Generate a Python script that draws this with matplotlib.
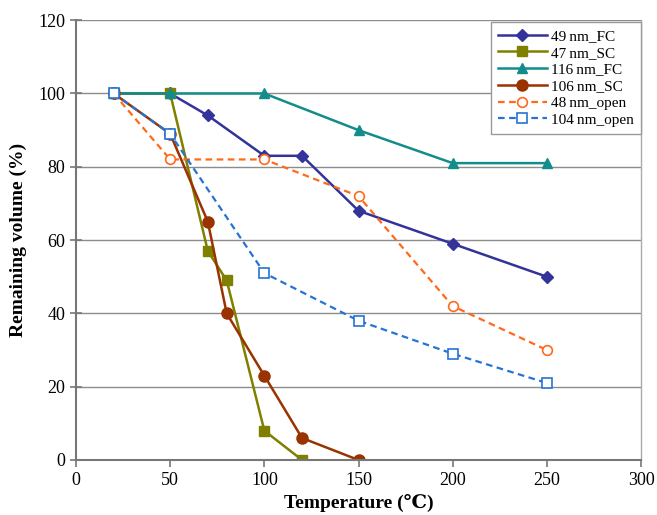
import matplotlib.pyplot as plt

# data
x_49fc = [20, 50, 70, 100, 120, 150, 200, 250]
y_49fc = [100, 100, 94, 83, 83, 68, 59, 50]
x_47sc = [20, 50, 70, 80, 100, 120]
y_47sc = [100, 100, 57, 49, 8, 0]
x_116fc = [20, 50, 100, 150, 200, 250]
y_116fc = [100, 100, 100, 90, 81, 81]
x_106sc = [20, 50, 70, 80, 100, 120, 150]
y_106sc = [100, 89, 65, 40, 23, 6, 0]
x_48open = [20, 50, 100, 150, 200, 250]
y_48open = [100, 82, 82, 72, 42, 30]
x_104open = [20, 50, 100, 150, 200, 250]
y_104open = [100, 89, 51, 38, 29, 21]

plt.rcParams['font.family'] = ['Liberation Serif', 'DejaVu Serif']

fig = plt.figure(figsize=(6.57, 5.15), dpi=100)
ax = fig.add_axes([0.1157, 0.1068, 0.86, 0.854])

ax.plot(x_49fc, y_49fc, color='#33339A', marker='D', ms=6, lw=1.8, label='49\u2009nm_FC')
ax.plot(x_47sc, y_47sc, color='#808000', marker='s', ms=7, lw=1.8, label='47\u2009nm_SC')
ax.plot(x_116fc, y_116fc, color='#138C8C', marker='^', ms=7, lw=1.8, label='116\u2009nm_FC')
ax.plot(x_106sc, y_106sc, color='#993300', marker='o', ms=8, lw=1.8, label='106\u2009nm_SC')
ax.plot(x_48open, y_48open, color='#FF6A1A', marker='o', ms=7, mfc='white', mew=1.2,
        lw=1.6, ls=(0, (3, 2)), label='48\u2009nm_open')
ax.plot(x_104open, y_104open, color='#2673D4', marker='s', ms=7, mfc='white', mew=1.2,
        lw=1.6, ls=(0, (3, 2)), label='104\u2009nm_open')

ax.set_xlim(0, 300)
ax.set_ylim(0, 120)
ax.set_xticks(range(0, 301, 50))
ax.set_yticks(range(0, 121, 20))
ax.yaxis.grid(True, color='#8c8c8c', lw=1)
ax.set_axisbelow(True)

for s in ['left', 'bottom']:
    ax.spines[s].set_color('#777777')
    ax.spines[s].set_linewidth(1.5)
ax.spines['top'].set_visible(False)
ax.spines['right'].set_color('#aaaaaa')
ax.spines['right'].set_linewidth(1)

ax.tick_params(axis='both', labelsize=13, color='#777777', width=1.2, length=5)
ax.tick_params(axis='y', direction='inout', length=8)
ax.tick_params(axis='x', direction='out')

ax.set_xlabel('Temperature (\u2103)', fontsize=14, fontweight='bold', labelpad=4)
ax.set_ylabel('Remaining volume (%)', fontsize=14, fontweight='bold', labelpad=8)

leg = ax.legend(loc='upper right', bbox_to_anchor=(1.0, 0.995), borderaxespad=0,
                fontsize=11, frameon=True, fancybox=False, framealpha=1,
                handlelength=3.2, handletextpad=0.3, labelspacing=0.2,
                borderpad=0.45)
leg.get_frame().set_edgecolor('#999999')
leg.get_frame().set_linewidth(1)

fig.savefig('out.png', dpi=100)
